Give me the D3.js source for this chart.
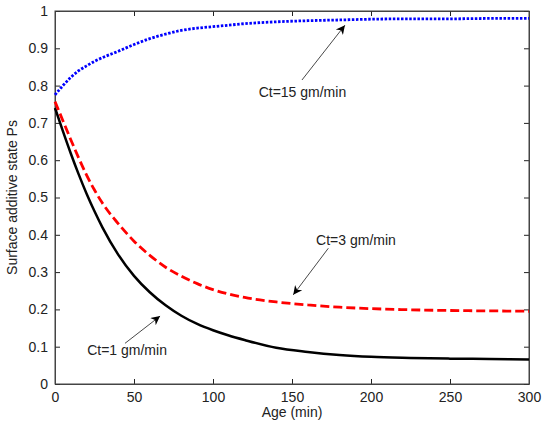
<!DOCTYPE html>
<html>
<head>
<meta charset="utf-8">
<script src="https://cdn.jsdelivr.net/npm/d3@7"></script>
<style>
  body { margin: 0; background: #fff; }
  svg text { font-family: Arial, "Liberation Sans", sans-serif; }
</style>
</head>
<body>
<svg id="chart"></svg>
<script>
// values
const ages = [0, 5, 10, 15, 20, 25, 30, 40, 50, 60, 70, 80, 90, 100, 110, 120, 140, 160, 180, 200, 225, 250, 275, 300];
const ct1 = [0.74, 0.678, 0.618, 0.562, 0.51, 0.463, 0.42, 0.347, 0.29, 0.246, 0.211, 0.183, 0.161, 0.144, 0.13, 0.118, 0.097, 0.086, 0.078, 0.073, 0.07, 0.068, 0.067, 0.066];
const ct3 = [0.757, 0.706, 0.655, 0.606, 0.56, 0.52, 0.485, 0.43, 0.383, 0.345, 0.313, 0.289, 0.269, 0.253, 0.241, 0.232, 0.22, 0.212, 0.206, 0.202, 0.199, 0.197, 0.196, 0.195];
const ct15 = [0.775, 0.80, 0.822, 0.84, 0.853, 0.865, 0.875, 0.892, 0.91, 0.926, 0.938, 0.948, 0.954, 0.958, 0.962, 0.966, 0.971, 0.974, 0.976, 0.978, 0.979, 0.979, 0.98, 0.98];
const xTicks = [0, 50, 100, 150, 200, 250, 300];
const yTicks = [0, 0.1, 0.2, 0.3, 0.4, 0.5, 0.6, 0.7, 0.8, 0.9, 1];

// label text, text position, arrow tail, arrow tip (data units)
const notes = [
  { label: 'Ct=15 gm/min', at: [156.6, 0.783], from: [156.3, 0.815], to: [183.5, 0.962] },
  { label: 'Ct=3 gm/min', at: [190.5, 0.386], from: [173, 0.364], to: [150.8, 0.239] },
  { label: 'Ct=1 gm/min', at: [45.6, 0.091], from: [44.3, 0.109], to: [66.5, 0.182] }
];

const width = 542, height = 427;
const margin = { top: 11, right: 13, bottom: 43, left: 55 };
const w = width - margin.left - margin.right;
const h = height - margin.top - margin.bottom;

const svg = d3.select('#chart')
  .attr('width', width)
  .attr('height', height);

const g = svg.append('g')
  .attr('transform', `translate(${margin.left},${margin.top})`);

const x = d3.scaleLinear().domain([0, 300]).range([0, w]);
const y = d3.scaleLinear().domain([0, 1]).range([h, 0]);

const fmt = d => (d === 0 || d === 1 ? String(d) : d3.format('.1f')(d));

// axes with inward ticks on all four sides
g.append('g')
  .attr('transform', `translate(0,${h})`)
  .call(d3.axisBottom(x).tickValues(xTicks).tickSizeInner(-5).tickSizeOuter(0).tickPadding(8));
g.append('g')
  .call(d3.axisTop(x).tickValues(xTicks).tickSizeInner(-5).tickSizeOuter(0).tickFormat(''));
g.append('g')
  .call(d3.axisLeft(y).tickValues(yTicks).tickFormat(fmt).tickSizeInner(-5).tickSizeOuter(0).tickPadding(7));
g.append('g')
  .attr('transform', `translate(${w},0)`)
  .call(d3.axisRight(y).tickValues(yTicks).tickSizeInner(-5).tickSizeOuter(0).tickFormat(''));

g.selectAll('.domain').attr('stroke', '#444');
g.selectAll('.tick line').attr('stroke', '#222');
g.selectAll('.tick text').attr('font-size', 14).attr('fill', '#222');

g.append('rect')
  .attr('width', w).attr('height', h)
  .attr('fill', 'none').attr('stroke', '#444').attr('stroke-width', 1);

const line = d3.line()
  .x(d => x(d[0]))
  .y(d => y(d[1]))
  .curve(d3.curveMonotoneX);

const series = [
  { vals: ct1, color: '#000', dash: null, width: 2.5 },
  { vals: ct3, color: '#f00', dash: '9,4', width: 2.8 },
  { vals: ct15, color: '#00f', dash: '2.5,1.6', width: 2.8 }
];

g.selectAll('.series')
  .data(series)
  .enter()
  .append('path')
  .attr('class', 'series')
  .attr('d', s => line(ages.map((a, i) => [a, s.vals[i]])))
  .attr('fill', 'none')
  .attr('stroke', s => s.color)
  .attr('stroke-width', s => s.width)
  .attr('stroke-dasharray', s => s.dash);

// arrows
svg.append('defs').append('marker')
  .attr('id', 'head')
  .attr('viewBox', '0 0 10 10')
  .attr('refX', 10).attr('refY', 5)
  .attr('markerWidth', 12).attr('markerHeight', 9)
  .attr('markerUnits', 'userSpaceOnUse')
  .attr('orient', 'auto')
  .append('path')
  .attr('d', 'M0,0 L10,5 L0,10 L3,5 Z')
  .attr('fill', '#000');

const ann = g.selectAll('.note')
  .data(notes)
  .enter()
  .append('g')
  .attr('class', 'note');

ann.append('line')
  .attr('x1', d => x(d.from[0])).attr('y1', d => y(d.from[1]))
  .attr('x2', d => x(d.to[0])).attr('y2', d => y(d.to[1]))
  .attr('stroke', '#333').attr('stroke-width', 0.9)
  .attr('marker-end', 'url(#head)');

ann.append('text')
  .attr('x', d => x(d.at[0])).attr('y', d => y(d.at[1]))
  .attr('dy', '.35em')
  .attr('text-anchor', 'middle')
  .attr('font-size', 14)
  .attr('fill', '#222')
  .text(d => d.label);

// axis titles
svg.append('text')
  .attr('x', margin.left + w / 2).attr('y', 417)
  .attr('text-anchor', 'middle')
  .attr('font-size', 14)
  .attr('fill', '#222')
  .text('Age (min)');

svg.append('text')
  .attr('transform', `translate(17,${margin.top + h / 2}) rotate(-90)`)
  .attr('text-anchor', 'middle')
  .attr('font-size', 14)
  .attr('fill', '#222')
  .text('Surface additive state Ps');
</script>
</body>
</html>
